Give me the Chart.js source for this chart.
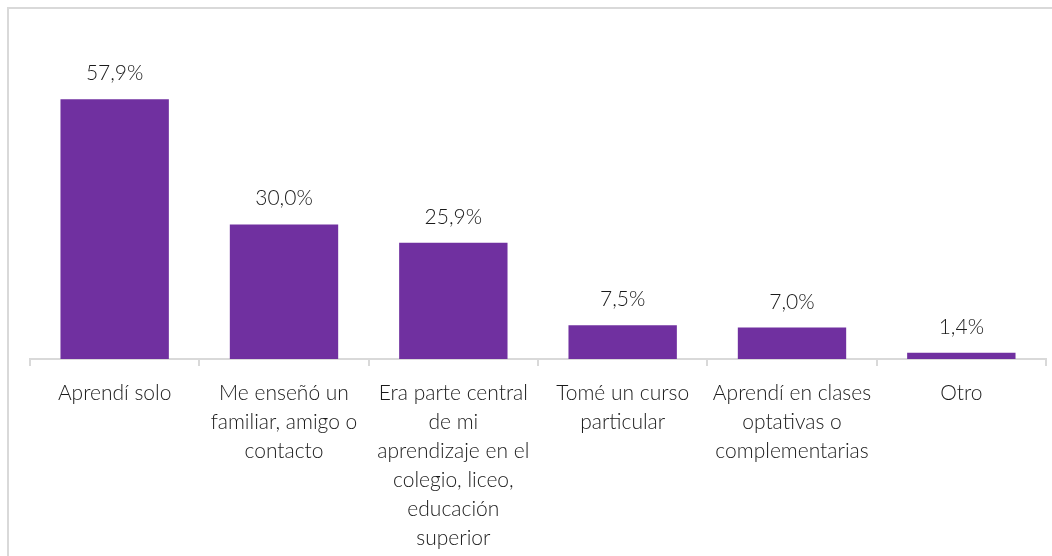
<!DOCTYPE html>
<html>
<head>
<meta charset="utf-8">
<script src="https://cdn.jsdelivr.net/npm/chart.js@4.4.1/dist/chart.umd.min.js"></script>
<style>
  html, body { margin: 0; padding: 0; background: #fff; }
  #wrap { position: relative; width: 1052px; height: 556px; }
  #frame { position: absolute; left: 7px; top: 7px; right: 0; bottom: 0;
           border-left: 2px solid #d9d9d9; border-top: 2px solid #d9d9d9; }
  canvas { position: absolute; left: 0; top: 0; }
</style>
</head>
<body>
<div id="wrap">
  <div id="frame"></div>
  <canvas id="learnChart" width="1052" height="556"></canvas>
</div>
<script>
const categories = [
  ["Aprendí solo"],
  ["Me enseñó un", "familiar, amigo o", "contacto"],
  ["Era parte central", "de mi", "aprendizaje en el", "colegio, liceo,", "educación", "superior"],
  ["Tomé un curso", "particular"],
  ["Aprendí en clases", "optativas o", "complementarias"],
  ["Otro"]
];
const values = [57.9, 30.0, 25.9, 7.5, 7.0, 1.4];

const FONT = "Lato, 'Open Sans', sans-serif";

// draw the percentage above each bar
const valueLabels = {
  id: "valueLabels",
  afterDatasetsDraw(chart) {
    const ctx = chart.ctx;
    const meta = chart.getDatasetMeta(0);
    ctx.save();
    ctx.font = "300 21px " + FONT;
    ctx.fillStyle = "#1a1a1a";
    ctx.textAlign = "center";
    ctx.textBaseline = "alphabetic";
    meta.data.forEach((bar, i) => {
      const txt = values[i].toFixed(1).replace(".", ",") + "%";
      ctx.fillText(txt, bar.x, bar.y - 19);
    });
    ctx.restore();
  }
};

new Chart(document.getElementById("learnChart"), {
  type: "bar",
  data: {
    labels: categories,
    datasets: [{
      data: values,
      backgroundColor: "#7030a0",
      categoryPercentage: 0.64,
      barPercentage: 1.0
    }]
  },
  options: {
    responsive: false,
    animation: false,
    layout: { padding: { left: 30, right: 6, top: 45, bottom: 0 } },
    plugins: {
      legend: { display: false },
      tooltip: { enabled: false }
    },
    scales: {
      x: {
        offset: true,
        grid: {
          offset: true,
          drawOnChartArea: false,
          drawTicks: true,
          tickLength: 7,
          color: "#d9d9d9",
          lineWidth: 2
        },
        border: { display: true, color: "#d9d9d9", width: 2 },
        ticks: {
          maxRotation: 0,
          autoSkip: false,
          padding: 13,
          color: "#1a1a1a",
          font: { family: FONT, size: 21, weight: "300", lineHeight: "29px" }
        },
        afterFit(scale) { scale.height = 197; }
      },
      y: {
        display: false,
        min: 0,
        max: 70
      }
    }
  },
  plugins: [valueLabels]
});
</script>
</body>
</html>
